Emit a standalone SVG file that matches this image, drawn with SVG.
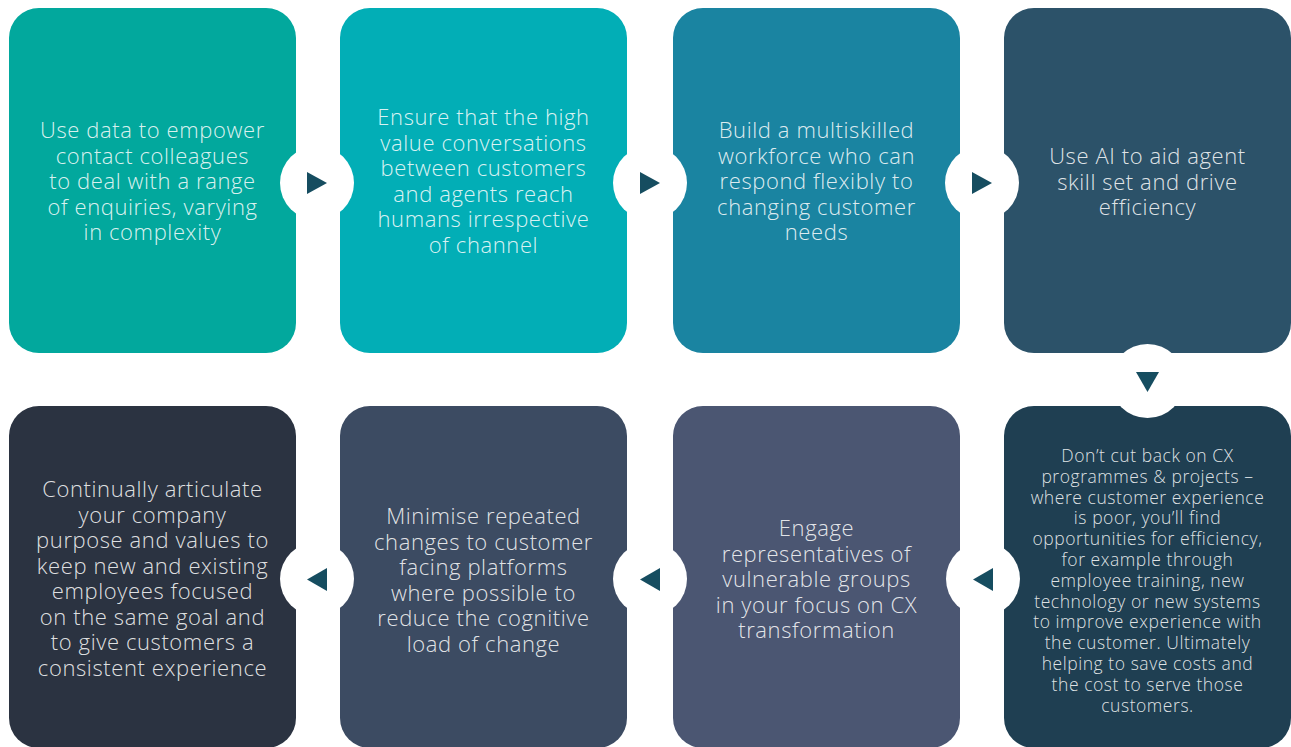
<svg xmlns="http://www.w3.org/2000/svg" width="1291" height="747" viewBox="0 0 1291 747">
  <style>
    .box { stroke: none; }
    .label { font-family: "Open Sans", "Liberation Sans", sans-serif; font-weight: 300; font-size: 22px; letter-spacing: 0.6px; fill: #ffffff; fill-opacity: 0.86; text-anchor: middle; }
    .small { font-size: 17.5px; letter-spacing: 0.55px; }
    .hub { fill: #ffffff; }
    .tip { fill: #164d60; }
  </style>
  <rect width="1291" height="747" fill="#ffffff"/>

  <!-- top row -->
  <g id="step1">
    <rect class="box" x="9" y="8" width="287" height="345" rx="30" fill="#02a89d"/>
    <text class="label" x="152.5" y="138"><tspan x="152.5">Use data to empower</tspan><tspan x="152.5" dy="25.5">contact colleagues</tspan><tspan x="152.5" dy="25.5">to deal with a range</tspan><tspan x="152.5" dy="25.5">of enquiries, varying</tspan><tspan x="152.5" dy="25.5">in complexity</tspan></text>
  </g>
  <g id="step2">
    <rect class="box" x="340" y="8" width="287" height="345" rx="30" fill="#02aeb6"/>
    <text class="label" x="483.5" y="125"><tspan x="483.5">Ensure that the high</tspan><tspan x="483.5" dy="25.5">value conversations</tspan><tspan x="483.5" dy="25.5">between customers</tspan><tspan x="483.5" dy="25.5">and agents reach</tspan><tspan x="483.5" dy="25.5">humans irrespective</tspan><tspan x="483.5" dy="25.5">of channel</tspan></text>
  </g>
  <g id="step3">
    <rect class="box" x="673" y="8" width="287" height="345" rx="30" fill="#1a84a1"/>
    <text class="label" x="816.5" y="138"><tspan x="816.5">Build a multiskilled</tspan><tspan x="816.5" dy="25.5">workforce who can</tspan><tspan x="816.5" dy="25.5">respond flexibly to</tspan><tspan x="816.5" dy="25.5">changing customer</tspan><tspan x="816.5" dy="25.5">needs</tspan></text>
  </g>
  <g id="step4">
    <rect class="box" x="1004" y="8" width="287" height="345" rx="30" fill="#2c5269"/>
    <text class="label" x="1147.5" y="164"><tspan x="1147.5">Use AI to aid agent</tspan><tspan x="1147.5" dy="25.5">skill set and drive</tspan><tspan x="1147.5" dy="25.5">efficiency</tspan></text>
  </g>

  <!-- bottom row -->
  <g id="step5">
    <rect class="box" x="1004" y="406" width="287" height="342" rx="30" fill="#1f3f52"/>
    <text class="label small" x="1147.5" y="462"><tspan x="1147.5">Don’t cut back on CX</tspan><tspan x="1147.5" dy="20.8">programmes &amp; projects –</tspan><tspan x="1147.5" dy="20.8">where customer experience</tspan><tspan x="1147.5" dy="20.8">is poor, you’ll find</tspan><tspan x="1147.5" dy="20.8">opportunities for efficiency,</tspan><tspan x="1147.5" dy="20.8">for example through</tspan><tspan x="1147.5" dy="20.8">employee training, new</tspan><tspan x="1147.5" dy="20.8">technology or new systems</tspan><tspan x="1147.5" dy="20.8">to improve experience with</tspan><tspan x="1147.5" dy="20.8">the customer. Ultimately</tspan><tspan x="1147.5" dy="20.8">helping to save costs and</tspan><tspan x="1147.5" dy="20.8">the cost to serve those</tspan><tspan x="1147.5" dy="20.8">customers.</tspan></text>
  </g>
  <g id="step6">
    <rect class="box" x="673" y="406" width="287" height="342" rx="30" fill="#4b5672"/>
    <text class="label" x="816.5" y="536"><tspan x="816.5">Engage</tspan><tspan x="816.5" dy="25.5">representatives of</tspan><tspan x="816.5" dy="25.5">vulnerable groups</tspan><tspan x="816.5" dy="25.5">in your focus on CX</tspan><tspan x="816.5" dy="25.5">transformation</tspan></text>
  </g>
  <g id="step7">
    <rect class="box" x="340" y="406" width="287" height="342" rx="30" fill="#3c4b62"/>
    <text class="label" x="483.5" y="524"><tspan x="483.5">Minimise repeated</tspan><tspan x="483.5" dy="25.5">changes to customer</tspan><tspan x="483.5" dy="25.5">facing platforms</tspan><tspan x="483.5" dy="25.5">where possible to</tspan><tspan x="483.5" dy="25.5">reduce the cognitive</tspan><tspan x="483.5" dy="25.5">load of change</tspan></text>
  </g>
  <g id="step8">
    <rect class="box" x="9" y="406" width="287" height="342" rx="30" fill="#2b3341"/>
    <text class="label" x="152.5" y="497"><tspan x="152.5">Continually articulate</tspan><tspan x="152.5" dy="25.5">your company</tspan><tspan x="152.5" dy="25.5">purpose and values to</tspan><tspan x="152.5" dy="25.5">keep new and existing</tspan><tspan x="152.5" dy="25.5">employees focused</tspan><tspan x="152.5" dy="25.5">on the same goal and</tspan><tspan x="152.5" dy="25.5">to give customers a</tspan><tspan x="152.5" dy="25.5">consistent experience</tspan></text>
  </g>

  <!-- connectors: white hubs with direction arrows -->
  <g id="connectors">
    <circle class="hub" cx="317" cy="183" r="37"/>
    <polygon class="tip" points="307,172 307,194 327,183"/>
    <circle class="hub" cx="650" cy="183" r="37"/>
    <polygon class="tip" points="640,172 640,194 660,183"/>
    <circle class="hub" cx="982" cy="183" r="37"/>
    <polygon class="tip" points="972,172 972,194 992,183"/>

    <circle class="hub" cx="1147.5" cy="381" r="37"/>
    <polygon class="tip" points="1136,372 1159,372 1147.5,392"/>

    <circle class="hub" cx="983" cy="579" r="37"/>
    <polygon class="tip" points="993,568 993,591 973,579.5"/>
    <circle class="hub" cx="650" cy="579" r="37"/>
    <polygon class="tip" points="660,568 660,591 640,579.5"/>
    <circle class="hub" cx="317" cy="579" r="37"/>
    <polygon class="tip" points="327,568 327,591 307,579.5"/>
  </g>
</svg>
